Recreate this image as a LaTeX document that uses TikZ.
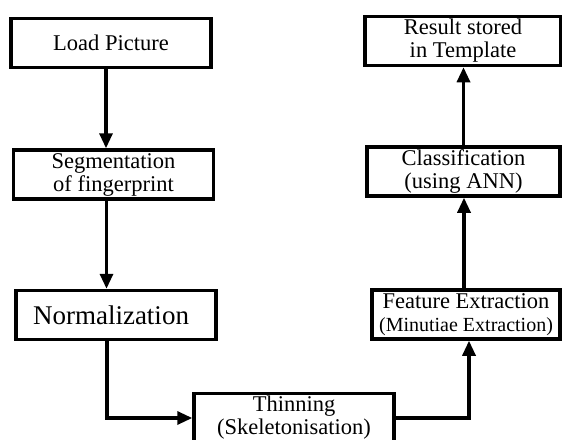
\documentclass[tikz,border=0pt]{standalone}
\usepackage{fontspec}
\setmainfont{Liberation Serif}
\usetikzlibrary{arrows.meta}
\begin{document}
\begin{tikzpicture}[x=1pt,y=-1pt,
    stage/.style={draw,line width=3.5pt,align=center,inner sep=0pt,
        minimum width=200pt,minimum height=49pt,
        font=\fontsize{22.5}{23}\selectfont},
    flow/.style={line width=3.2pt,-{Triangle[length=15pt,width=13pt]}}]
    \useasboundingbox (0,0) rectangle (562,439);

    % left column
    \node[stage] (load) at (111,43) {Load Picture};
    \node[stage] (seg) at (113.5,174.5) {Segmentation\\of fingerprint};
    \node[stage,font=\fontsize{27}{28}\selectfont] (norm) at (116,315) {Normalization\hspace{10pt}};

    % bottom
    \node[stage] (thin) at (294,418) {Thinning\\(Skeletonisation)};

    % right column
    \node[stage,minimum width=188pt] (feat) at (466,314.5)
        {Feature Extraction\\{\fontsize{20}{23}\selectfont(Minutiae Extraction)}};
    \node[stage,minimum width=193pt] (class) at (463.5,171.5) {Classification\\(using ANN)};
    \node[stage,minimum width=196pt] (result) at (463,41) {Result stored\\in Template};

    \draw[flow] ([xshift=-5pt]load.south) -- ([xshift=-5pt]load.south |- seg.north);
    \draw[flow] ([xshift=-7pt]seg.south) -- ([xshift=-7pt]seg.south |- norm.north);
    \draw[flow] ([xshift=-9pt]norm.south) |- (thin.west);
    \draw[flow] (thin.east) -| ([xshift=3pt]feat.south);
    \draw[flow] ([xshift=-2pt]feat.north) -- ([xshift=-2pt]feat.north |- class.south);
    \draw[flow] (class.north) -- (class.north |- result.south);
\end{tikzpicture}
\end{document}
